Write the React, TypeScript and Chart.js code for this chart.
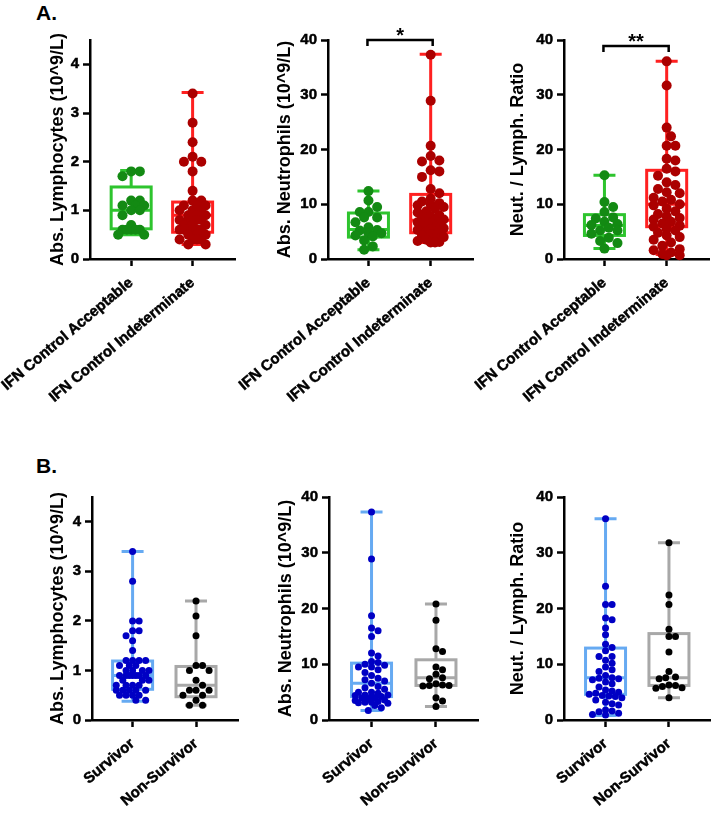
import React, { useEffect, useRef } from 'react';
import { Chart, registerables } from 'chart.js';
Chart.register(...registerables);

const FONT = '"Liberation Sans", Arial, Helvetica, sans-serif';
Chart.defaults.font.family = FONT;
Chart.defaults.color = '#000';

// ---------- categories ----------
const catsA = ['IFN Control Acceptable', 'IFN Control Indeterminate'];
const catsB = ['Survivor', 'Non-Survivor'];

// ---------- axis titles ----------
const titleLymph = 'Abs. Lymphocytes (10^9/L)';
const titleNeut = 'Abs. Neutrophils (10^9/L)';
const titleRatio = 'Neut. / Lymph. Ratio';

// ---------- A: IFN control acceptable vs indeterminate ----------
const lymphAcceptable = [1.8, 1.8, 1.7, 1.2, 1.2, 1.1, 1.1, 1.1, 1.0, 1.0, 0.9, 0.7, 0.6, 0.6, 0.6, 0.6, 0.6, 0.5, 0.5];
const lymphIndeterminate = [3.4, 2.8, 2.4, 2.1, 2.0, 2.0, 1.8, 1.4, 1.2, 1.2, 1.1, 1.1, 1.1, 1.0, 1.0, 1.0, 1.0, 0.9, 0.9, 0.9, 0.9, 0.8, 0.8, 0.8, 0.8, 0.8, 0.7, 0.7, 0.7, 0.6, 0.6, 0.6, 0.6, 0.6, 0.6, 0.5, 0.5, 0.5, 0.5, 0.4, 0.4, 0.4, 0.4, 0.3, 0.3];
const neutAcceptable = [12.4, 10.7, 9.5, 8.6, 8.6, 7.6, 7.6, 6.7, 5.8, 5.3, 5.2, 4.7, 4.7, 4.3, 4.1, 3.4, 2.3, 1.7];
const neutIndeterminate = [37.3, 28.9, 20.7, 18.8, 18.0, 17.8, 16.2, 16.0, 15.0, 12.8, 12.0, 11.0, 10.5, 10.2, 10.0, 9.8, 9.5, 9.2, 8.7, 8.5, 8.0, 7.8, 7.5, 7.2, 7.0, 6.8, 6.7, 6.5, 6.2, 6.0, 5.8, 5.6, 5.5, 5.3, 5.0, 4.8, 4.5, 4.3, 4.0, 3.8, 3.5, 3.3, 3.1, 3.0, 3.0];
const ratioAcceptable = [15.3, 10.4, 9.5, 8.6, 7.6, 7.4, 6.8, 6.4, 6.2, 5.7, 5.2, 5.2, 4.6, 3.9, 3.3, 2.9, 1.9];
const ratioIndeterminate = [36.1, 31.7, 24.0, 22.4, 20.7, 20.7, 18.3, 18.0, 16.5, 16.0, 15.2, 14.0, 13.5, 12.8, 12.2, 12.0, 11.2, 10.8, 10.5, 10.0, 9.8, 9.2, 8.7, 8.2, 7.8, 7.5, 7.2, 6.8, 6.5, 6.1, 5.9, 5.5, 5.2, 4.8, 4.3, 4.0, 3.5, 3.0, 2.4, 1.8, 1.6, 1.2, 0.9, 0.7, 0.7];

// box stats: [min, q1, median, q3, max]
const lymphAcceptableBox = [0.5, 0.62, 1.0, 1.48, 1.82];
const lymphIndeterminateBox = [0.3, 0.55, 0.9, 1.17, 3.42];
const neutAcceptableBox = [1.7, 4.0, 5.4, 8.4, 12.4];
const neutIndeterminateBox = [3.0, 4.8, 7.1, 11.8, 37.4];
const ratioAcceptableBox = [1.9, 4.3, 6.1, 8.1, 15.3];
const ratioIndeterminateBox = [0.8, 5.9, 10.0, 16.2, 36.1];

// ---------- B: survivor vs non-survivor ----------
const lymphSurvivor = [3.4, 2.8, 2.0, 2.0, 1.8, 1.8, 1.7, 1.6, 1.4, 1.2, 1.2, 1.2, 1.2, 1.1, 1.1, 1.1, 1.0, 1.0, 1.0, 1.0, 0.9, 0.9, 0.9, 0.9, 0.9, 0.9, 0.9, 0.8, 0.8, 0.8, 0.7, 0.7, 0.7, 0.7, 0.6, 0.6, 0.6, 0.6, 0.6, 0.5, 0.5, 0.5, 0.5, 0.4, 0.4];
const lymphNonSurvivor = [2.4, 2.1, 1.7, 1.1, 1.1, 1.0, 1.0, 0.8, 0.7, 0.6, 0.6, 0.6, 0.5, 0.5, 0.4, 0.3, 0.3];
const neutSurvivor = [37.3, 28.9, 18.7, 16.5, 16.0, 15.0, 12.0, 11.5, 10.5, 10.3, 10.0, 9.8, 9.5, 9.5, 9.0, 8.5, 8.0, 7.5, 7.2, 7.0, 6.6, 6.0, 5.8, 5.5, 5.0, 5.0, 4.8, 4.5, 4.5, 4.4, 4.3, 4.2, 4.0, 4.0, 3.8, 3.6, 3.5, 3.3, 3.2, 3.2, 3.1, 3.0, 2.6, 2.2, 1.7];
const neutNonSurvivor = [20.8, 17.9, 12.8, 12.3, 9.5, 9.0, 8.2, 7.6, 7.4, 6.5, 6.3, 6.2, 6.2, 6.1, 4.0, 3.4, 2.4];
const ratioSurvivor = [36.1, 24.0, 20.7, 20.7, 18.3, 18.0, 16.5, 15.3, 13.6, 13.0, 12.4, 11.4, 11.4, 10.7, 10.2, 9.5, 9.0, 8.7, 8.0, 7.6, 7.5, 7.4, 7.2, 6.8, 6.5, 5.9, 5.4, 5.2, 5.0, 4.8, 4.6, 4.4, 4.3, 4.2, 4.0, 3.6, 3.2, 2.9, 2.7, 1.8, 1.6, 1.5, 1.2, 1.0, 0.9];
const ratioNonSurvivor = [31.8, 22.4, 20.7, 16.3, 15.0, 15.0, 12.2, 8.7, 7.7, 7.6, 7.4, 6.3, 6.2, 6.0, 5.8, 5.7, 4.0];

const lymphSurvivorBox = [0.38, 0.62, 0.9, 1.19, 3.4];
const lymphNonSurvivorBox = [0.3, 0.47, 0.7, 1.08, 2.4];
const neutSurvivorBox = [1.7, 4.2, 6.6, 10.2, 37.3];
const neutNonSurvivorBox = [2.4, 6.2, 7.6, 10.8, 20.8];
const ratioSurvivorBox = [0.8, 4.6, 7.6, 12.9, 36.1];
const ratioNonSurvivorBox = [4.0, 6.2, 7.6, 15.5, 31.8];

// ---------- styles ----------
const GREEN_LINE = '#2ec42e';
const GREEN_DOT = '#138a13';
const RED_LINE = '#ff2020';
const RED_DOT = '#ab0000';
const BLUE_LINE = '#66aaf2';
const BLUE_DOT = '#0000c4';
const GRAY_LINE = '#a8a8a8';
const GRAY_DOT = '#000000';

type Group = { values: number[]; box: number[]; line: string; dot: string };
type Panel = {
  left: number; top: number; width: number; height: number;
  padL: number; padT: number; padR: number; yW: number; xH: number;
  xMin: number; xMax: number; yMax: number; step: number;
  cats: string[]; title: string; groups: Group[]; dotR: number; minDist: number; maxHalf: number;
  bracket?: { value: number; text: string };
};

const panels: Panel[] = [
  { left: 0, top: 0, width: 240, height: 405, padL: 47, padT: 40, padR: 3, yW: 43, xH: 146,
    xMin: -0.67, xMax: 1.69, yMax: 4.5, step: 1, cats: catsA, title: titleLymph, dotR: 5, minDist: 8.8, maxHalf: 17.5,
    groups: [
      { values: lymphAcceptable, box: lymphAcceptableBox, line: GREEN_LINE, dot: GREEN_DOT },
      { values: lymphIndeterminate, box: lymphIndeterminateBox, line: RED_LINE, dot: RED_DOT },
    ] },
  { left: 236, top: 0, width: 242, height: 405, padL: 38, padT: 40, padR: 3, yW: 54, xH: 146,
    xMin: -0.65, xMax: 1.68, yMax: 40, step: 10, cats: catsA, title: titleNeut, dotR: 5, minDist: 8.8, maxHalf: 17.5,
    bracket: { value: 40, text: '*' },
    groups: [
      { values: neutAcceptable, box: neutAcceptableBox, line: GREEN_LINE, dot: GREEN_DOT },
      { values: neutIndeterminate, box: neutIndeterminateBox, line: RED_LINE, dot: RED_DOT },
    ] },
  { left: 474, top: 0, width: 240, height: 405, padL: 33, padT: 40, padR: 3, yW: 57, xH: 146,
    xMin: -0.65, xMax: 1.68, yMax: 40, step: 10, cats: catsA, title: titleRatio, dotR: 5, minDist: 8.8, maxHalf: 17.5,
    bracket: { value: 38.9, text: '**' },
    groups: [
      { values: ratioAcceptable, box: ratioAcceptableBox, line: GREEN_LINE, dot: GREEN_DOT },
      { values: ratioIndeterminate, box: ratioIndeterminateBox, line: RED_LINE, dot: RED_DOT },
    ] },
  { left: 0, top: 440, width: 242, height: 381, padL: 47, padT: 57, padR: 2, yW: 45, xH: 101,
    xMin: -0.64, xMax: 1.67, yMax: 4.5, step: 1, cats: catsB, title: titleLymph, dotR: 3.5, minDist: 6.6, maxHalf: 19.5,
    groups: [
      { values: lymphSurvivor, box: lymphSurvivorBox, line: BLUE_LINE, dot: BLUE_DOT },
      { values: lymphNonSurvivor, box: lymphNonSurvivorBox, line: GRAY_LINE, dot: GRAY_DOT },
    ] },
  { left: 240, top: 440, width: 242, height: 381, padL: 35, padT: 57, padR: 2, yW: 54, xH: 101,
    xMin: -0.66, xMax: 1.66, yMax: 40, step: 10, cats: catsB, title: titleNeut, dotR: 3.5, minDist: 6.6, maxHalf: 19.5,
    groups: [
      { values: neutSurvivor, box: neutSurvivorBox, line: BLUE_LINE, dot: BLUE_DOT },
      { values: neutNonSurvivor, box: neutNonSurvivorBox, line: GRAY_LINE, dot: GRAY_DOT },
    ] },
  { left: 478, top: 440, width: 236, height: 381, padL: 29, padT: 57, padR: 2, yW: 57, xH: 101,
    xMin: -0.655, xMax: 1.655, yMax: 40, step: 10, cats: catsB, title: titleRatio, dotR: 3.5, minDist: 6.6, maxHalf: 19.5,
    groups: [
      { values: ratioSurvivor, box: ratioSurvivorBox, line: BLUE_LINE, dot: BLUE_DOT },
      { values: ratioNonSurvivor, box: ratioNonSurvivorBox, line: GRAY_LINE, dot: GRAY_DOT },
    ] },
];

// deterministic bounded beeswarm: each dot takes the column closest to the centre that keeps
// minDist from the dots already placed; if the band is full, the least crowded column wins
function swarm(values: number[], center: number, pxPerX: number, pxPerY: number, minDist: number, maxHalf: number) {
  const placed: { px: number; py: number }[] = [];
  const out: { x: number; y: number }[] = [];
  const sorted = [...values].sort((a, b) => b - a);
  const step = minDist / 2;
  const cands: number[] = [0];
  for (let k = 1; k * step <= maxHalf + 0.01; k++) cands.push(k * step, -k * step);
  for (const v of sorted) {
    const py = v * pxPerY;
    let chosen = 0;
    let bestScore = -1;
    for (const c of cands) {
      let md = Infinity;
      for (const p of placed) {
        const d = Math.hypot(p.px - c, p.py - py);
        if (d < md) md = d;
      }
      if (md >= minDist - 0.01) { chosen = c; bestScore = Infinity; break; }
      if (md > bestScore + 0.5) { bestScore = md; chosen = c; }
    }
    placed.push({ px: chosen, py });
    out.push({ x: center + chosen / pxPerX, y: v });
  }
  return out;
}

function makeBoxPlugin(p: Panel) {
  return {
    id: 'boxes',
    beforeDatasetsDraw(chart: any) {
      const { ctx } = chart;
      const x = chart.scales.x;
      const y = chart.scales.y;
      const boxHalf = 20;
      const capHalf = 11;
      p.groups.forEach((g, i) => {
        const cx = x.getPixelForValue(i);
        const [mn, q1, md, q3, mx] = g.box.map((v) => y.getPixelForValue(v));
        ctx.save();
        ctx.strokeStyle = g.line;
        ctx.lineWidth = 3;
        ctx.beginPath();
        ctx.moveTo(cx, mx); ctx.lineTo(cx, q3);
        ctx.moveTo(cx, q1); ctx.lineTo(cx, mn);
        ctx.moveTo(cx - capHalf, mx); ctx.lineTo(cx + capHalf, mx);
        ctx.moveTo(cx - capHalf, mn); ctx.lineTo(cx + capHalf, mn);
        ctx.moveTo(cx - boxHalf, md); ctx.lineTo(cx + boxHalf, md);
        ctx.stroke();
        ctx.strokeRect(cx - boxHalf, q3, boxHalf * 2, q1 - q3);
        ctx.restore();
      });
    },
    afterDatasetsDraw(chart: any) {
      if (!p.bracket) return;
      const { ctx } = chart;
      const x = chart.scales.x;
      const y = chart.scales.y;
      const x0 = x.getPixelForValue(0) - 1;
      const x1 = x.getPixelForValue(1) + 2;
      const by = y.getPixelForValue(p.bracket.value);
      ctx.save();
      ctx.strokeStyle = '#000';
      ctx.lineWidth = 2.5;
      ctx.beginPath();
      ctx.moveTo(x0, by + 6); ctx.lineTo(x0, by); ctx.lineTo(x1, by); ctx.lineTo(x1, by + 6);
      ctx.stroke();
      ctx.fillStyle = '#000';
      ctx.font = 'bold 20px ' + FONT;
      ctx.textAlign = 'center';
      ctx.textBaseline = 'alphabetic';
      ctx.fillText(p.bracket.text, (x0 + x1) / 2, by + 2);
      ctx.restore();
    },
  };
}

function PanelChart({ p }: { p: Panel }) {
  const ref = useRef<HTMLCanvasElement>(null);
  useEffect(() => {
    const plotW = p.width - p.padL - p.yW - p.padR;
    const plotH = p.height - p.padT - p.xH;
    const pxPerX = plotW / (p.xMax - p.xMin);
    const pxPerY = plotH / p.yMax;
    const datasets = p.groups.map((g, i) => ({
      data: swarm(g.values, i, pxPerX, pxPerY, p.minDist, p.maxHalf),
      backgroundColor: g.dot,
      borderWidth: 0,
      pointRadius: p.dotR,
      pointHoverRadius: p.dotR,
      clip: false as any,
    }));
    const chart = new Chart(ref.current!, {
      type: 'scatter',
      data: { datasets },
      plugins: [makeBoxPlugin(p)],
      options: {
        responsive: false,
        animation: false,
        events: [],
        layout: { padding: { left: p.padL, top: p.padT, right: p.padR, bottom: 0 } },
        plugins: { legend: { display: false }, tooltip: { enabled: false } },
        scales: {
          x: {
            type: 'linear',
            min: p.xMin,
            max: p.xMax,
            afterBuildTicks: (s: any) => { s.ticks = [{ value: 0 }, { value: 1 }]; },
            afterFit: (s: any) => { s.height = p.xH; s.paddingLeft = 0; s.paddingRight = 0; },
            ticks: {
              autoSkip: false,
              minRotation: 40,
              maxRotation: 40,
              padding: 8,
              font: { size: 15, weight: 'bold', family: FONT },
              color: '#000',
              textStrokeColor: '#000',
              textStrokeWidth: 0.5,
              callback: (v: any) => p.cats[v as number],
            },
            grid: { display: true, drawOnChartArea: false, drawTicks: true, tickLength: 7, tickWidth: 2.5, tickColor: '#000' },
            border: { display: true, color: '#000', width: 2.5 },
          },
          y: {
            type: 'linear',
            min: 0,
            max: p.yMax,
            afterBuildTicks: (s: any) => {
              s.ticks = s.ticks.filter((t: any) => Math.abs(t.value / p.step - Math.round(t.value / p.step)) < 1e-6);
            },
            afterFit: (s: any) => { s.width = p.yW; s.paddingTop = 0; s.paddingBottom = 0; },
            ticks: { stepSize: p.step, padding: 4, font: { size: 15, weight: 'bold', family: FONT }, color: '#000', textStrokeColor: '#000', textStrokeWidth: 0.5 },
            title: { display: true, text: p.title, font: { size: 18, weight: 'bold', family: FONT }, padding: 0, color: '#000' },
            grid: { display: true, drawOnChartArea: false, drawTicks: true, tickLength: 7, tickWidth: 2.5, tickColor: '#000' },
            border: { display: true, color: '#000', width: 2.5 },
          },
        },
      } as any,
    });
    return () => chart.destroy();
  }, [p]);
  return (
    <canvas
      ref={ref}
      width={p.width}
      height={p.height}
      style={{ position: 'absolute', left: p.left, top: p.top, width: p.width, height: p.height, display: 'block' }}
    />
  );
}

export default function App() {
  const label: React.CSSProperties = { position: 'absolute', left: 36, fontSize: 21, fontWeight: 'bold', lineHeight: '21px', fontFamily: FONT, color: '#000' };
  return (
    <div style={{ position: 'absolute', left: 0, top: 0, width: 714, height: 821, background: '#fff', overflow: 'hidden' }}>
      <div style={{ ...label, top: 2 }}>A.</div>
      <div style={{ ...label, top: 455 }}>B.</div>
      {panels.map((p, i) => <PanelChart key={i} p={p} />)}
    </div>
  );
}
